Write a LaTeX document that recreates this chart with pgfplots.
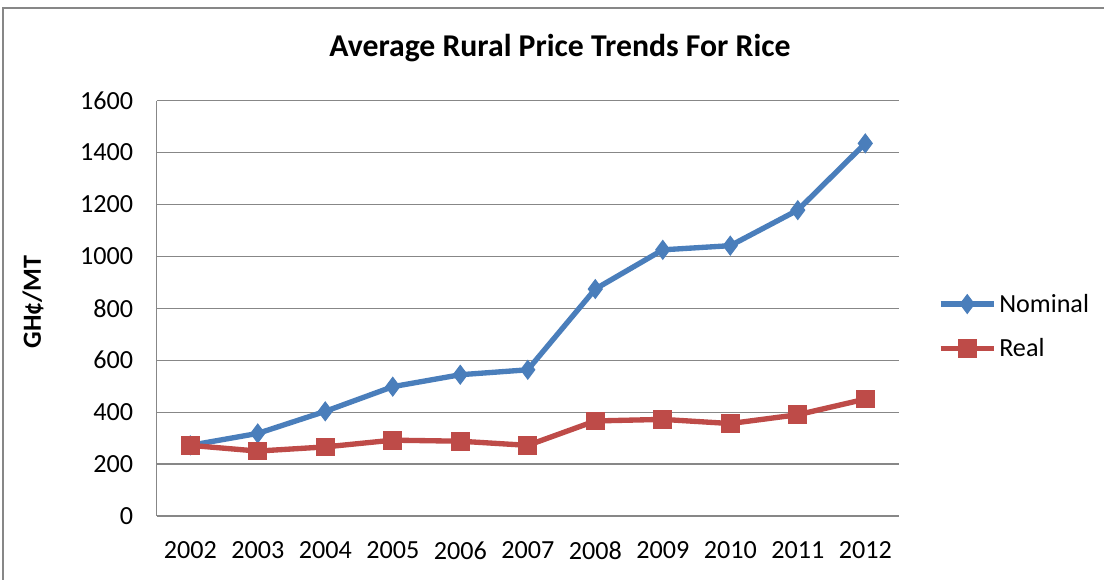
\documentclass[border=0pt]{standalone}
\usepackage{pgfplots}
\pgfplotsset{compat=1.18}
\usepackage{fontspec}
\setmainfont{Carlito}
\definecolor{nomblue}{HTML}{4A7EBB}
\definecolor{realred}{HTML}{BE4B48}
\definecolor{gridgray}{HTML}{878787}
\pgfplotstableread{
x year nominal real
0 2002 272 272
1 2003 318 250
2 2004 403 266
3 2005 498 292
4 2006 544 288
5 2007 563 272
6 2008 874 366
7 2009 1025 372
8 2010 1041 356
9 2011 1178 390
10 2012 1435 450
}\ricedata
\begin{document}
\begin{tikzpicture}[x=0.75pt,y=0.75pt]
\useasboundingbox (0,0) rectangle (1104,580);
\fill[white] (0,0) rectangle (1104,580);
% outer chart frame (only top and left edges are visible)
\draw[gridgray, line width=1.5pt] (3,-20) -- (3,572) -- (1130,572);
\node[font=\fontsize{23.8}{28}\selectfont\bfseries] at (560,532) {Average Rural Price Trends For Rice};
\node[font=\fontsize{19.6}{23}\selectfont\bfseries, rotate=90] at (33,278) {GH¢/MT};
\begin{axis}[
  at={(117.375pt,48pt)}, anchor=south west,
  scale only axis,
  width=556.9pt, height=311.6pt,
  xmin=-0.5, xmax=10.5,
  ymin=0, ymax=1600,
  xtick=data,
  xticklabels={2002,2003,2004,2005,2006,2007,2008,2009,2010,2011,2012},
  ytick={0,200,...,1600},
  major tick length=0pt,
  ymajorgrids,
  grid style={gridgray, line width=0.9pt},
  axis line style={gridgray, line width=0.9pt},
  axis x line*=bottom, axis y line*=left,
  x axis line style={-}, y axis line style={-},
  tick label style={font=\fontsize{19.6}{23}\selectfont},
  /pgf/number format/assume math mode=true,
  /pgf/number format/set thousands separator={},
  yticklabel style={xshift=-14pt},
  xticklabel style={yshift=-15.5pt},
  legend style={at={(1.052,0.457)}, anchor=west, draw=none, fill=none,
    font=\fontsize{19.6}{23}\selectfont, row sep=14pt, inner sep=0pt,
    /tikz/every even column/.append style={column sep=2pt}},
  legend cell align=left,
  legend image code/.code={
    \draw[#1, mark=none] (0pt,0pt) -- (40pt,0pt);
    \draw[#1, mark repeat=1] plot coordinates {(20pt,0pt)};
  },
  clip=false,
]
\addplot[nomblue, line width=4pt, mark=diamond*, mark size=7pt,
  mark options={line width=0.8pt, solid}]
  table[x=x, y=nominal] {\ricedata};
\addlegendentry{Nominal}
\addplot[realred, line width=4pt, mark=square*, mark size=6.6pt,
  mark options={line width=0.8pt, solid}]
  table[x=x, y=real] {\ricedata};
\addlegendentry{Real}
\end{axis}
\end{tikzpicture}
\end{document}
